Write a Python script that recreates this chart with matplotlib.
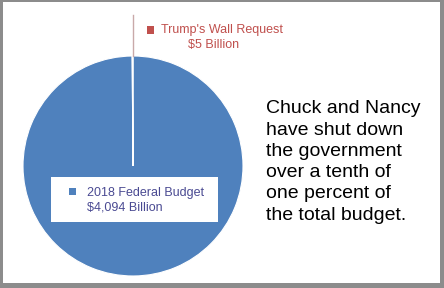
import matplotlib
matplotlib.use('Agg')
import matplotlib.pyplot as plt
from matplotlib.patches import Rectangle
import numpy as np

plt.rcParams['font.family'] = ['Liberation Sans', 'DejaVu Sans']

labels = ['2018 Federal Budget', "Trump's Wall Request"]
values = [4094, 5]
value_labels = ['$4,094 Billion', '$5 Billion']
colors = ['#4F81BD', '#C0504D']
message = 'Chuck and Nancy\nhave shut down\nthe government\nover a tenth of\none percent of\nthe total budget.'

W, H = 444, 288
fig = plt.figure(figsize=(W / 100, H / 100), dpi=100)
fig.patch.set_facecolor('#8c8c8c')

def px(x, y):
    return x / W, 1 - y / H

def square(x, y, size, color):
    fig.patches.append(Rectangle(px(x - size / 2, y + size / 2), size / W, size / H,
                                 transform=fig.transFigure, facecolor=color,
                                 edgecolor='none', zorder=4))

# white inner panel
fig.patches.append(Rectangle((3 / W, 5 / H), 437 / W, 281 / H, transform=fig.transFigure,
                             facecolor='white', edgecolor='none', zorder=-1))

cx, cy, r = 133, 166, 110
ax = fig.add_axes([(cx - r) / W, 1 - (cy + r) / H, 2 * r / W, 2 * r / H])
ax.set_zorder(1)
ax.set_axis_off()
wedges, _ = ax.pie(values, colors=colors, startangle=90, counterclock=False,
                   wedgeprops=dict(edgecolor='white', linewidth=0.8))
ax.set_xlim(-1, 1)
ax.set_ylim(-1, 1)

# leader line from the small slice up to its label
w = wedges[1]
mid = np.deg2rad((w.theta1 + w.theta2) / 2)
x0, y0 = np.cos(mid), np.sin(mid)
ax.plot([x0, x0], [y0, (cy - 15) / r], color='#c9a9a9', lw=1, clip_on=False)

# small slice label
square(150, 30, 7, colors[1])
fig.text(*px(161, 30), labels[1], color=colors[1], fontsize=9, ha='left', va='center', zorder=4)
fig.text(*px(188, 45), value_labels[1], color=colors[1], fontsize=9, ha='left', va='center', zorder=4)

# big slice label in a white box
fig.patches.append(Rectangle(px(51, 222), 167 / W, 45 / H, transform=fig.transFigure,
                             facecolor='white', edgecolor='none', zorder=3))
square(72.5, 191, 7, colors[0])
fig.text(*px(87, 193), labels[0], color='#4a4a92', fontsize=9, ha='left', va='center', zorder=4)
fig.text(*px(87, 208), value_labels[0], color='#4a4a92', fontsize=9, ha='left', va='center', zorder=4)

fig.text(*px(266, 162), message, color='black', fontsize=14, ha='left', va='center',
         linespacing=1.33, zorder=4)

fig.savefig('out.png', dpi=100, facecolor=fig.get_facecolor())
